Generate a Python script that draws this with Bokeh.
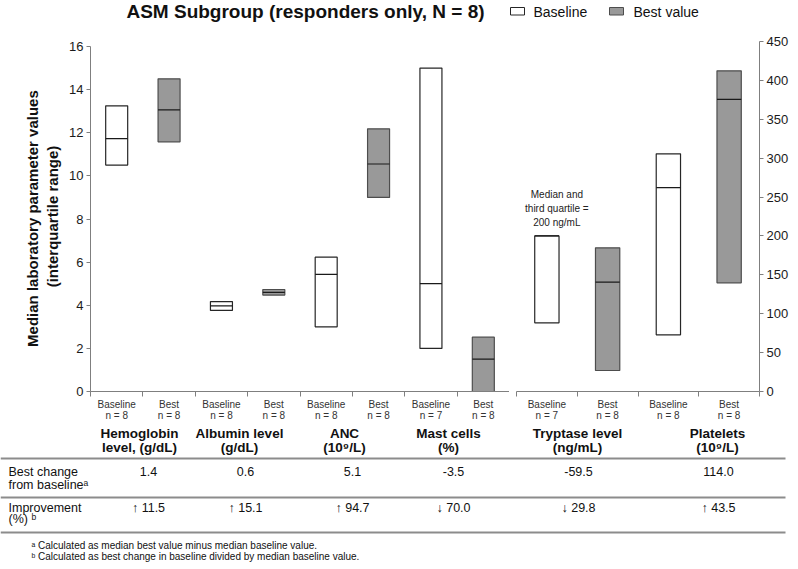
from bokeh.plotting import figure
from bokeh.models import Range1d, FixedTicker, ColumnDataSource
from bokeh.layouts import column, row
from bokeh.embed import file_html
from bokeh.resources import INLINE
from bokeh.core.properties import value

FONT = "Liberation Sans"
FONT_ARROW = "Liberation Sans, DejaVu Sans"

# ---------------- data ----------------
TITLE = "ASM Subgroup (responders only, N = 8)"
SERIES = ["Baseline", "Best value"]
SUB_LABELS = ["Baseline", "Best"]

LEFT_PARAMS = ["Hemoglobin\nlevel, (g/dL)", "Albumin level\n(g/dL)", "ANC\n(10\u2079/L)", "Mast cells\n(%)"]
RIGHT_PARAMS = ["Tryptase level\n(ng/mL)", "Platelets\n(10\u2079/L)"]

LEFT_BASE_N = [8, 8, 8, 7]
LEFT_BEST_N = [8, 8, 8, 8]
RIGHT_BASE_N = [7, 8]
RIGHT_BEST_N = [8, 8]

# interquartile range (Q1, median, Q3)
LEFT_BASE_Q1 = [10.5, 3.76, 3.0, 2.0]
LEFT_BASE_MED = [11.73, 3.97, 5.43, 5.0]
LEFT_BASE_Q3 = [13.25, 4.17, 6.23, 15.0]
LEFT_BEST_Q1 = [11.58, 4.47, 9.0, 0.0]
LEFT_BEST_MED = [13.06, 4.6, 10.55, 1.5]
LEFT_BEST_Q3 = [14.5, 4.73, 12.18, 2.52]

RIGHT_BASE_Q1 = [88.3, 72.9]
RIGHT_BASE_MED = [200.0, 262.0]
RIGHT_BASE_Q3 = [200.0, 305.6]
RIGHT_BEST_Q1 = [27.0, 139.7]
RIGHT_BEST_MED = [140.5, 375.5]
RIGHT_BEST_Q3 = [184.7, 412.3]

LEFT_TICKS = [0, 2, 4, 6, 8, 10, 12, 14, 16]
RIGHT_TICKS = [0, 50, 100, 150, 200, 250, 300, 350, 400, 450]

ROW_LABELS = [["Best change", "from baseline\u1d43"], ["Improvement", "(%) \u1d47"]]
BEST_CHANGE = ["1.4", "0.6", "5.1", "-3.5", "-59.5", "114.0"]
IMPROVEMENT = ["\u2191 11.5", "\u2191 15.1", "\u2191 94.7", "\u2193 70.0", "\u2193 29.8", "\u2191 43.5"]
FOOTNOTES = ["\u1d43 Calculated as median best value minus median baseline value.",
             "\u1d47 Calculated as best change in baseline divided by median baseline value."]
NOTE = "Median and\nthird quartile =\n200 ng/mL"

# ---------------- styles / layout ----------------
AXIS_GRAY = "#7f7f7f"
BEST_FILL = "#999999"
BASE_LINE = "#262626"
BEST_LINE = "#4d4d4d"
TEXT_COL = "#1a1a1a"
BOTTOM_BORDER = 36


def chart(params, base, best, ns, yr, ticks, side, frame_w, bounds_top, bw,
          min_left, min_right):
    n_slots = 2 * len(params)
    p = figure(frame_width=frame_w, frame_height=350,
               x_range=Range1d(0, n_slots), y_range=yr,
               output_backend="svg", toolbar_location=None,
               y_axis_location=side,
               min_border_left=min_left, min_border_right=min_right,
               min_border_top=8, min_border_bottom=BOTTOM_BORDER)
    p.outline_line_color = None
    p.xgrid.visible = False
    p.ygrid.visible = False

    for (q1, med, q3), off, fill, line in [(base, 0.5, "white", BASE_LINE),
                                           (best, 1.5, BEST_FILL, BEST_LINE)]:
        xs = [2 * i + off for i in range(len(q1))]
        src = ColumnDataSource(dict(x=xs, q1=q1, med=med, q3=q3,
                                    x0=[x - bw / 2 for x in xs],
                                    x1=[x + bw / 2 for x in xs]))
        p.vbar(x="x", width=bw, bottom="q1", top="q3", source=src,
               fill_color=fill, line_color=line, line_width=1.2)
        p.segment(x0="x0", x1="x1", y0="med", y1="med", source=src,
                  line_color="#1a1a1a", line_width=1.2)

    ya = p.yaxis[0]
    ya.ticker = FixedTicker(ticks=ticks)
    ya.bounds = (0, bounds_top)
    ya.axis_line_color = AXIS_GRAY
    ya.major_tick_line_color = AXIS_GRAY
    ya.major_tick_out = 4
    ya.major_tick_in = 0
    ya.minor_tick_out = 0
    ya.minor_tick_in = 0
    ya.major_label_standoff = 3
    ya.major_label_text_font = FONT
    ya.major_label_text_font_size = "13px"
    ya.major_label_text_color = TEXT_COL

    xa = p.xaxis[0]
    centers = [i + 0.5 for i in range(n_slots)]
    overrides = {}
    for i in range(len(params)):
        overrides[2 * i + 0.5] = f"{SUB_LABELS[0]}\nn = {ns[0][i]}"
        overrides[2 * i + 1.5] = f"{SUB_LABELS[1]}\nn = {ns[1][i]}"
    xa.ticker = FixedTicker(ticks=centers, minor_ticks=list(range(n_slots + 1)))
    xa.major_label_overrides = overrides
    xa.bounds = (0, n_slots)
    xa.axis_line_color = AXIS_GRAY
    xa.major_tick_out = 0
    xa.major_tick_in = 0
    xa.minor_tick_out = 5
    xa.minor_tick_in = 0
    xa.minor_tick_line_color = AXIS_GRAY
    xa.major_label_standoff = 2
    xa.major_label_text_font = FONT
    xa.major_label_text_font_size = "10px"
    xa.major_label_text_line_height = 1.0
    xa.major_label_text_color = "#333333"
    return p


LEFT_TOP = 16 * 350 / 345
p_left = chart(LEFT_PARAMS,
               (LEFT_BASE_Q1, LEFT_BASE_MED, LEFT_BASE_Q3),
               (LEFT_BEST_Q1, LEFT_BEST_MED, LEFT_BEST_Q3),
               (LEFT_BASE_N, LEFT_BEST_N), Range1d(0, LEFT_TOP), LEFT_TICKS,
               "left", 419, 16, 0.42, 90, 0)
ya = p_left.yaxis[0]
ya.axis_label = "Median laboratory parameter  values\n(interquartile range)"
ya.axis_label_text_font = FONT
ya.axis_label_text_font_style = "bold"
ya.axis_label_text_font_size = "15px"
ya.axis_label_text_color = "#111111"
ya.axis_label_standoff = 5

p_right = chart(RIGHT_PARAMS,
                (RIGHT_BASE_Q1, RIGHT_BASE_MED, RIGHT_BASE_Q3),
                (RIGHT_BEST_Q1, RIGHT_BEST_MED, RIGHT_BEST_Q3),
                (RIGHT_BASE_N, RIGHT_BEST_N), Range1d(0, 450), RIGHT_TICKS,
                "right", 243, 450, 0.40, 7, 39)
p_right.text(x=[0.5], y=[RIGHT_BASE_Q3[0]], text=[NOTE], x_offset=10, y_offset=-8,
             text_align="center", text_baseline="bottom",
             text_font=value(FONT), text_font_size="10px", text_line_height=1.25,
             text_color="#222222")

# ---------------- header (title + legend) ----------------
p_head = figure(width=798, height=33, x_range=Range1d(0, 798), y_range=Range1d(33, 0),
                output_backend="svg", toolbar_location=None,
                x_axis_type=None, y_axis_type=None, min_border=0)
p_head.outline_line_color = None
p_head.xgrid.visible = False
p_head.ygrid.visible = False
p_head.text(x=[305], y=[11], text=[TITLE], text_align="center", text_baseline="middle",
            text_font=value(FONT), text_font_style="bold", text_font_size="19px",
            text_color="#111111")
p_head.quad(left=[510, 609], right=[524, 623], top=[7, 7], bottom=[14.5, 14.5],
            fill_color=["white", BEST_FILL], line_color=[BASE_LINE, BEST_LINE], line_width=1)
p_head.text(x=[533, 633], y=[11, 11], text=SERIES, text_baseline="middle",
            text_font=value(FONT), text_font_size="14px", text_color="#111111")

# ---------------- footer (group labels, table, footnotes) ----------------
FOOT_TOP = 33 + 8 + 350 + BOTTOM_BORDER
FOOT_H = 569 - FOOT_TOP
p_foot = figure(width=798, height=FOOT_H, x_range=Range1d(0, 798),
                y_range=Range1d(FOOT_TOP + FOOT_H, FOOT_TOP),
                output_backend="svg", toolbar_location=None,
                x_axis_type=None, y_axis_type=None, min_border=0)
p_foot.outline_line_color = None
p_foot.xgrid.visible = False
p_foot.ygrid.visible = False

GROUP_X = [139, 239, 344, 448, 577, 717]
params = LEFT_PARAMS + RIGHT_PARAMS
p_foot.text(x=GROUP_X, y=[433] * 6, text=[t.split("\n")[0] for t in params],
            text_align="center", text_baseline="middle",
            text_font=value(FONT), text_font_style="bold", text_font_size="13.5px",
            text_color="#111111")
p_foot.text(x=GROUP_X, y=[447] * 6, text=[t.split("\n")[1] for t in params],
            text_align="center", text_baseline="middle",
            text_font=value(FONT), text_font_style="bold", text_font_size="13.5px",
            text_color="#111111")

p_foot.segment(x0=[0, 0, 0], x1=[785, 785, 785], y0=[458, 497, 532], y1=[458, 497, 532],
               line_color="#8c8c8c", line_width=2)
COL_X = [148, 245, 352, 453, 578, 718]
p_foot.text(x=[8, 8], y=[471, 484], text=ROW_LABELS[0], text_baseline="middle",
            text_font=value(FONT), text_font_size="12.5px", text_color="#111111")
p_foot.text(x=[8, 8], y=[507, 518], text=ROW_LABELS[1], text_baseline="middle",
            text_font=value(FONT), text_font_size="12.5px", text_color="#111111")
p_foot.text(x=COL_X, y=[471] * 6, text=BEST_CHANGE, text_align="center", text_baseline="middle",
            text_font=value(FONT), text_font_size="12.5px", text_color="#111111")
p_foot.text(x=COL_X, y=[507] * 6, text=IMPROVEMENT, text_align="center", text_baseline="middle",
            text_font=value(FONT_ARROW), text_font_size="12.5px", text_color="#111111")
p_foot.text(x=[31, 31], y=[545, 556], text=FOOTNOTES, text_baseline="middle",
            text_font=value(FONT), text_font_size="10px", text_color="#111111")

layout = column(p_head, row(p_left, p_right), p_foot)
open("out.html", "w").write(file_html(layout, INLINE))
